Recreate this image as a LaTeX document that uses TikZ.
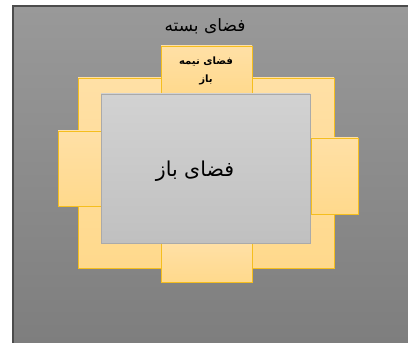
\documentclass[tikz,border=0pt]{standalone}
\usepackage{fontspec}
\newfontfamily\arabicfont[Script=Arabic]{DejaVu Sans}
\TeXXeTstate=1
\usetikzlibrary{positioning}
\definecolor{tabfill}{HTML}{FFD98C}
\definecolor{tabfilltop}{HTML}{FFE0A6}
\definecolor{tabline}{HTML}{F5BE1E}
\tikzset{
  tab/.style={draw=tabline, line width=0.8pt, top color=tabfilltop, bottom color=tabfill},
  label/.style={text=black, font=\arabicfont}
}

\begin{document}
\begin{tikzpicture}[x=0.03cm, y=-0.03cm]
  \useasboundingbox (0,0) rectangle (408,343);
  % closed space
  \fill[white] (0,0) rectangle (408,343);
  \shade[top color={rgb,255:red,153;green,153;blue,153}, bottom color={rgb,255:red,126;green,126;blue,126}] (13,6) rectangle (408,343);
  \draw[line width=1pt, black!70] (13,343) -- (13,6) -- (408,6);
  \node[label, font=\arabicfont\fontsize{14.5}{17}\selectfont] (closed) at (205,26) {\beginR فضای بسته\endR};
  % semi-open space
  \draw[tab] (78,78) rectangle (334,268);
  \draw[tab] (161,46) rectangle (252,95);
  \draw[tab] (161,243) rectangle (252,282);
  \draw[tab] (58,131) rectangle (101,206);
  \draw[tab] (311,138) rectangle (358,214);
  \node[label, font=\arabicfont\bfseries\fontsize{8.6}{15}\selectfont, align=center] (semi) at (206,71) {\beginR فضای نیمه\endR\\\beginR باز\endR};
  % open space
  \shade[draw={rgb,255:red,170;green,170;blue,170}, line width=0.6pt, top color={rgb,255:red,210;green,210;blue,210}, bottom color={rgb,255:red,192;green,192;blue,192}] (101,94) rectangle (310,243);
  \node[label, font=\arabicfont\fontsize{17.5}{20}\selectfont] (open) at (195,171) {\beginR فضای باز\endR};
\end{tikzpicture}
\end{document}
